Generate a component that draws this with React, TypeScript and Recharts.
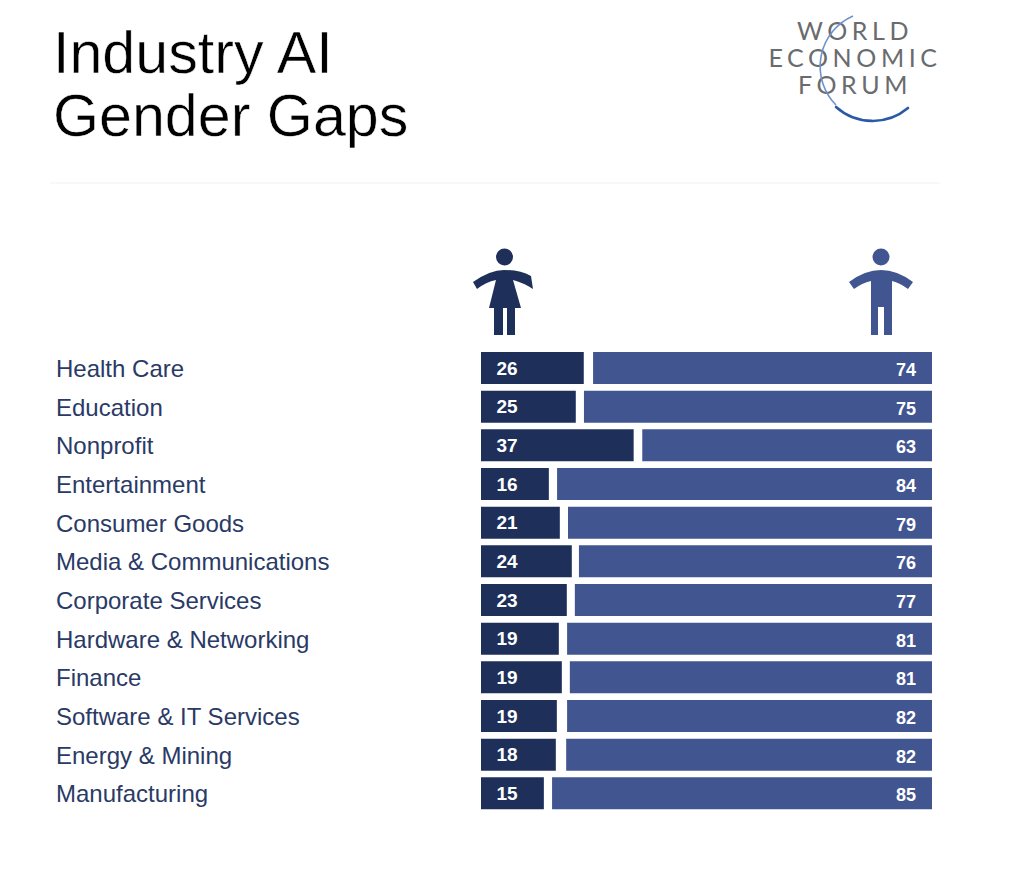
import React from "react";
import { BarChart, Bar, XAxis, YAxis, LabelList } from "recharts";

const industries = ["Health Care","Education","Nonprofit","Entertainment","Consumer Goods","Media & Communications","Corporate Services","Hardware & Networking","Finance","Software & IT Services","Energy & Mining","Manufacturing"];
const womenLabels = [26,25,37,16,21,24,23,19,19,19,18,15];
const menLabels = [74,75,63,84,79,76,77,81,81,82,82,85];
// bar lengths as drawn in the picture, which differ a little from the printed numbers
const womenDrawn = [25.75,23.75,38.25,17,19.75,22.75,21.5,19.5,20.25,19,18.75,15.75];
const menDrawn = [74.4,76.4,63.6,82.3,79.9,77.5,78.4,80.1,79.5,80.1,80.3,83.4];

const data = industries.map((name, i) => ({
  name,
  women: womenDrawn[i],
  men: menDrawn[i],
  womenLabel: womenLabels[i],
  menLabel: menLabels[i],
}));

const NAVY = "#1e2f5a";
const BLUE = "#415591";
const INK = "#2a3a66";

const CategoryTick = (props: any) => (
  <text x={56} y={props.y} dy={8.5} textAnchor="start" fontFamily="Liberation Sans" fontSize={24} fill={INK}>
    {props.payload.value}
  </text>
);

const LogoLine = ({ y, text, x, spacing }: any) => (
  <text x={x} y={y} textAnchor="middle" fontFamily="Lato" fontSize={25} fill="#6a6b6d" letterSpacing={spacing}>
    {text}
  </text>
);

const titleProps = { fontFamily: "Liberation Sans", fontSize: 59.2, fill: "#000", stroke: "#fff", strokeWidth: 0.5 };

export default function App() {
  return (
    <div style={{ position: "absolute", left: 0, top: 0, width: 1024, height: 892, background: "#fff", overflow: "hidden" }}>
      <BarChart
        width={1024}
        height={892}
        layout="vertical"
        data={data}
        barSize={32}
        barGap={-32}
        margin={{ top: 349, right: 92, bottom: 79, left: 56 }}
      >
        <XAxis xAxisId="women" type="number" domain={[0, 113]} hide />
        <XAxis xAxisId="men" type="number" domain={[0, 99]} reversed hide />
        <YAxis type="category" dataKey="name" width={425} axisLine={false} tickLine={false} tick={<CategoryTick />} interval={0} />
        <Bar xAxisId="women" dataKey="women" fill={NAVY} isAnimationActive={false}>
          <LabelList
            dataKey="womenLabel"
            content={(p: any) => (
              <text x={p.x + 26} y={p.y + p.height / 2 + 6.5} textAnchor="middle" fontFamily="Liberation Sans" fontWeight={700} fontSize={19} fill="#fff">
                {p.value}
              </text>
            )}
          />
        </Bar>
        <Bar xAxisId="men" dataKey="men" fill={BLUE} isAnimationActive={false}>
          <LabelList
            dataKey="menLabel"
            content={(p: any) => (
              <text x={932 - 26} y={p.y + p.height / 2 + 8} textAnchor="middle" fontFamily="Liberation Sans" fontWeight={700} fontSize={18} fill="#fff">
                {p.value}
              </text>
            )}
          />
        </Bar>
      </BarChart>
      <svg width={1024} height={340} style={{ position: "absolute", left: 0, top: 0 }}>
        <text x={53} y={73} {...titleProps}>Industry AI</text>
        <text x={53} y={136} {...titleProps}>Gender Gaps</text>
        <line x1={50} x2={940} y1={183} y2={183} stroke="#f1f1f1" strokeWidth={1} />

        <LogoLine x={855} y={40} text="WORLD" spacing={4.6} />
        <LogoLine x={855} y={67} text="ECONOMIC" spacing={4.6} />
        <LogoLine x={855} y={94} text="FORUM" spacing={4.6} />
        <path d="M853 16 A55 55 0 0 0 836 105" fill="none" stroke="#6f93c9" strokeWidth={1.6} />
        <path d="M836 107 A55 55 0 0 0 908 108" fill="none" stroke="#2a5aa5" strokeWidth={2.6} strokeLinecap="round" />

        <circle cx={504.5} cy={257} r={8.5} fill={NAVY} />
        <path d="M473 282 Q490 270 504 270 Q520 270 531 276 L533 289 Q524 283 513 280 L521 308 L515 308 L515 335 L507 335 L507 308 L503 308 L503 335 L494 335 L494 308 L489 308 L496 280 Q486 282 477 289 Z" fill={NAVY} />
        <circle cx={881} cy={257} r={8.5} fill={BLUE} />
        <path d="M849 282 Q881 258 913 282 L908 289 Q900 283 892 281 L892 335 L884 335 L884 307 L878 307 L878 335 L871 335 L871 281 Q862 283 854 289 Z" fill={BLUE} />
      </svg>
    </div>
  );
}
